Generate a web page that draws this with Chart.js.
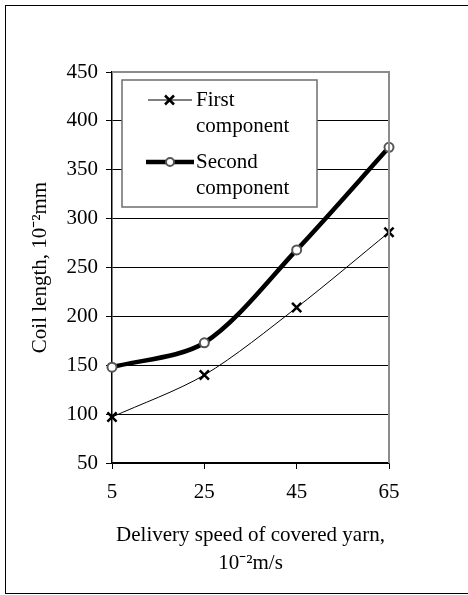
<!DOCTYPE html>
<html>
<head>
<meta charset="utf-8">
<script src="https://cdn.jsdelivr.net/npm/chart.js@4.4.1/dist/chart.umd.min.js"></script>
<style>
    html, body { margin: 0; padding: 0; background: #ffffff; }
    #wrap { width: 468px; height: 595px; position: relative; }
</style>
</head>
<body>
<div id="wrap"><canvas id="coil-chart" width="468" height="595"></canvas></div>
<script>
// Data
var speeds = ['5', '25', '45', '65'];
var firstComponent = [97, 140, 209, 286];
var secondComponent = [148, 173, 268, 373];
var yTicks = [50, 100, 150, 200, 250, 300, 350, 400, 450];
var legendFirst = ['First', 'component'];
var legendSecond = ['Second', 'component'];

var serif = "'Liberation Serif', 'Times New Roman', serif";

// Outer frame, plot border and the boxed legend
var framePlugin = {
    id: 'frame',
    beforeDraw: function (chart) {
        var ctx = chart.ctx;
        ctx.save();
        ctx.fillStyle = '#ffffff';
        ctx.fillRect(0, 0, chart.width, chart.height);
        ctx.strokeStyle = '#000000';
        ctx.lineWidth = 1;
        ctx.strokeRect(5.5, 5.5, 470, 588);
        ctx.restore();
    },
    afterDraw: function (chart) {
        var ctx = chart.ctx;
        var a = chart.chartArea;
        ctx.save();
        // gray top and right border of the plot area
        ctx.strokeStyle = '#8c8c8c';
        ctx.lineWidth = 2;
        ctx.beginPath();
        ctx.moveTo(a.left, a.top);
        ctx.lineTo(a.right, a.top);
        ctx.lineTo(a.right, a.bottom);
        ctx.stroke();

        // legend box
        var bx = a.left + 10, by = a.top + 8, bw = 195, bh = 127;
        ctx.fillStyle = '#ffffff';
        ctx.fillRect(bx, by, bw, bh);
        ctx.strokeStyle = '#6e6e6e';
        ctx.lineWidth = 1.5;
        ctx.strokeRect(bx, by, bw, bh);

        ctx.font = '21px ' + serif;
        ctx.fillStyle = '#000000';
        ctx.textBaseline = 'middle';
        ctx.textAlign = 'left';

        // first entry
        var y1 = by + 20;
        ctx.strokeStyle = '#000000';
        ctx.lineWidth = 1;
        ctx.beginPath();
        ctx.moveTo(bx + 26, y1);
        ctx.lineTo(bx + 70, y1);
        ctx.stroke();
        ctx.lineWidth = 2.5;
        ctx.beginPath();
        ctx.moveTo(bx + 43, y1 - 4.5);
        ctx.lineTo(bx + 52, y1 + 4.5);
        ctx.moveTo(bx + 52, y1 - 4.5);
        ctx.lineTo(bx + 43, y1 + 4.5);
        ctx.stroke();
        ctx.fillText(legendFirst[0], bx + 74, y1);
        ctx.fillText(legendFirst[1], bx + 74, y1 + 26);

        // second entry
        var y2 = by + 82;
        ctx.lineWidth = 4.5;
        ctx.beginPath();
        ctx.moveTo(bx + 24, y2);
        ctx.lineTo(bx + 72, y2);
        ctx.stroke();
        ctx.lineWidth = 2;
        ctx.strokeStyle = '#555555';
        ctx.fillStyle = '#ffffff';
        ctx.beginPath();
        ctx.arc(bx + 48, y2, 4, 0, Math.PI * 2);
        ctx.fill();
        ctx.stroke();
        ctx.fillStyle = '#000000';
        ctx.fillText(legendSecond[0], bx + 74, y2);
        ctx.fillText(legendSecond[1], bx + 74, y2 + 26);
        ctx.restore();
    }
};

var chart = new Chart(document.getElementById('coil-chart').getContext('2d'), {
    type: 'line',
    data: {
        labels: speeds,
        datasets: [{
            label: 'First component',
            data: firstComponent,
            borderColor: '#000000',
            borderWidth: 1,
            tension: 0.3,
            pointStyle: 'crossRot',
            pointRadius: 6.5,
            pointBorderWidth: 2.5,
            pointBorderColor: '#000000',
            pointBackgroundColor: '#000000'
        }, {
            label: 'Second component',
            data: secondComponent,
            borderColor: '#000000',
            borderWidth: 4.5,
            tension: 0.3,
            pointStyle: 'circle',
            pointRadius: 4.5,
            pointBorderWidth: 2,
            pointBorderColor: '#555555',
            pointBackgroundColor: '#ffffff'
        }]
    },
    options: {
        responsive: false,
        animation: false,
        devicePixelRatio: 1,
        layout: { padding: { left: 0, top: 72, right: 79, bottom: 0 } },
        plugins: {
            legend: { display: false },
            tooltip: { enabled: false }
        },
        scales: {
            x: {
                type: 'category',
                offset: false,
                afterFit: function (scale) { scale.height = 132; },
                border: { color: '#000000', width: 1.5 },
                grid: { drawOnChartArea: false, drawTicks: true, tickLength: 6, color: '#000000' },
                ticks: { color: '#000000', padding: 11, font: { family: serif, size: 21 } },
                title: {
                    display: true,
                    text: ['Delivery speed of covered yarn,', '10\u207B\u00B2m/s'],
                    color: '#000000',
                    font: { family: serif, size: 21, lineHeight: 1.35 },
                    padding: { top: 0, bottom: 17 }
                }
            },
            y: {
                min: 50,
                max: 450,
                afterFit: function (scale) { scale.width = 112; },
                afterBuildTicks: function (scale) {
                    scale.ticks = yTicks.map(function (v) { return { value: v }; });
                },
                border: { color: '#000000', width: 1.5 },
                grid: { color: '#000000', lineWidth: 1, tickLength: 6 },
                ticks: { color: '#000000', padding: 8, font: { family: serif, size: 21 } },
                title: {
                    display: true,
                    text: 'Coil length, 10\u207B\u00B2mm',
                    color: '#000000',
                    font: { family: serif, size: 21 },
                    padding: { top: 28, bottom: 0 }
                }
            }
        }
    },
    plugins: [framePlugin]
});
</script>
</body>
</html>
